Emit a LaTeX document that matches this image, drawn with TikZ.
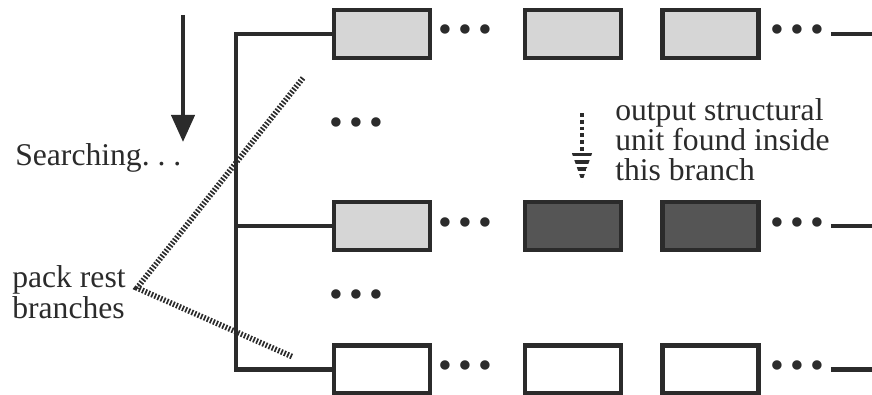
\documentclass[tikz,border=0pt]{standalone}
\usepackage{fontspec}
\setmainfont{Liberation Serif}
\usetikzlibrary{arrows.meta, positioning, patterns.meta}
\definecolor{ink}{HTML}{2b2b2b}
\definecolor{lightfill}{HTML}{d6d6d6}
\definecolor{darkfill}{HTML}{555555}
\newcommand{\bdots}{\textbullet\hspace{4.4pt}\textbullet\hspace{4.4pt}\textbullet}
\tikzset{
  unitBox/.style = {rectangle, draw=ink, line width=3pt,
    minimum width=2.4cm, minimum height=1.2cm, inner sep=0pt},
  lightUnit/.style = {unitBox, fill=lightfill},
  darkUnit/.style = {unitBox, fill=darkfill},
  emptyUnit/.style = {unitBox, fill=white},
  dotsNode/.style = {inner sep=0pt, font=\fontsize{28}{28}\selectfont, text=ink},
  noteText/.style = {align=left, inner sep=0pt, text=ink,
    font=\fontsize{22.5}{21}\selectfont},
  link/.style = {draw=ink, line width=3pt},
  search/.style = {draw=ink, line width=3pt,
    -{Triangle[length=0.675cm, width=0.575cm]}},
  pack/.style = {draw=ink, line width=4pt, dash pattern=on 1.2pt off 1.2pt},
  found/.style = {draw=ink, line width=2.8pt, dotted},
}

\begin{document}
\begin{tikzpicture}[x=0.025cm, y=-0.025cm, every node/.style={align=center}]
\useasboundingbox (0,0) rectangle (872,394);

% branches
\node[lightUnit] (r1c1) at (382,34) {};
\node[dotsNode, right=0.15cm of r1c1] (r1d1) {\bdots};
\node[lightUnit, right=2.275cm of r1c1] (r1c2) {};
\node[lightUnit, right=0.925cm of r1c2] (r1c3) {};
\node[dotsNode, right=0.25cm of r1c3] (r1d2) {\bdots};

\node[lightUnit, below=3.5cm of r1c1] (r2c1) {};
\node[dotsNode, right=0.15cm of r2c1] (r2d1) {\bdots};
\node[darkUnit, right=2.275cm of r2c1] (r2c2) {};
\node[darkUnit, right=0.925cm of r2c2] (r2c3) {};
\node[dotsNode, right=0.25cm of r2c3] (r2d2) {\bdots};

\node[emptyUnit, below=2.275cm of r2c1] (r3c1) {};
\node[dotsNode, right=0.15cm of r3c1] (r3d1) {\bdots};
\node[emptyUnit, right=2.275cm of r3c1] (r3c2) {};
\node[emptyUnit, right=0.925cm of r3c2] (r3c3) {};
\node[dotsNode, right=0.25cm of r3c3] (r3d2) {\bdots};

\node[dotsNode] (m1) at (356,127) {\bdots};
\node[dotsNode] (m2) at (356,299) {\bdots};

\coordinate (edge) at (872,0);
\draw[link] ([xshift=0.15cm]r1d2.east) -- (r1d2 -| edge);
\draw[link] ([xshift=0.15cm]r2d2.east) -- (r2d2 -| edge);
\draw[link] ([xshift=0.15cm]r3d2.east) -- (r3d2 -| edge);

% fork
\draw[link] (r1c1.west) -- ++(-2.4cm,0) coordinate (fork) |- (r3c1.west);
\draw[link] (fork |- r2c1) -- (r2c1.west);

% searching
\coordinate (s1) at (183,15);
\coordinate (s2) at (183,142);
\draw[search] (s1) -- (s2);
\node[noteText, anchor=base west] (searching) at (15,165) {Searching.\ .\ .};

% pack rest
\coordinate (packTop) at (303,78);
\coordinate (packTip) at (137,288);
\coordinate (packEnd) at (293,357);
\draw[pack] (packTop) -- (packTip) -- (packEnd);
\node[noteText, anchor=base west, font=\fontsize{22.5}{22}\selectfont] (packText)
  at (12,318) {pack rest\\branches};

% output found
\coordinate (f1) at (582,113);
\coordinate (f2) at (582,152);
\draw[found] (f1) -- (f2);
\fill[pattern={Lines[angle=0, distance=5pt, line width=2.2pt]}, pattern color=ink]
  (f2) ++(-10.5,0) -- ++(21,0) -- ++(-10.5,30) -- cycle;
\node[noteText, anchor=base west] (foundText) at (615,180)
  {output structural\\unit found inside\\this branch};

\end{tikzpicture}
\end{document}
